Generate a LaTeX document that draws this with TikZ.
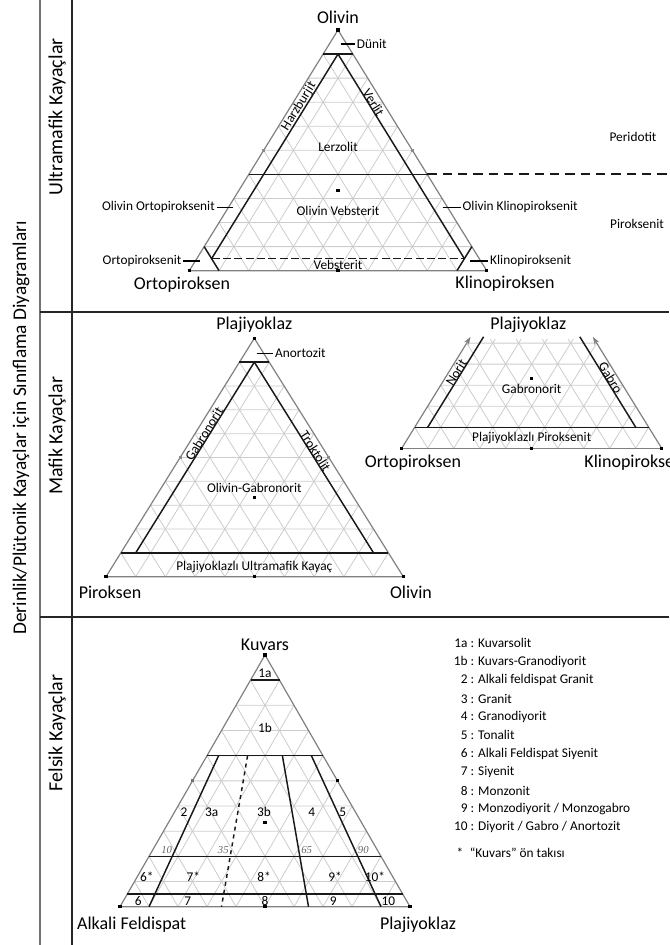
\documentclass[tikz,border=0pt]{standalone}
\usepackage{fontspec}
\setmainfont{Carlito}
\newfontfamily\pctfont{Liberation Serif}
\usetikzlibrary{calc,arrows.meta}

\tikzset{
  gridline/.style={draw=black!20, line width=0.6pt},
  edge/.style={draw=black!50, line width=0.9pt},
  bound/.style={draw=black!90, line width=1.1pt},
  tick/.style={draw=black, line width=0.9pt},
  lab/.style={font=\fontsize{10}{12}\selectfont, inner sep=1pt},
  big/.style={font=\fontsize{13.5}{16}\selectfont, inner sep=0pt},
  side/.style={font=\fontsize{14.5}{17}\selectfont, rotate=90, inner sep=0pt},
  pct/.style={font=\pctfont\itshape\fontsize{8}{9}\selectfont, text=black!60, inner sep=0pt},
  frame/.style={draw=black!85, line width=1.5pt},
}

% 10 % grid of a ternary diagram with corners #1 (top), #2, #3
\newcommand\terngrid[3]{%
  \foreach \f in {1,...,9}{%
    \draw[gridline] ($(#2)!0.\f!(#1)$) -- ($(#3)!0.\f!(#1)$)
                    ($(#1)!0.\f!(#2)$) -- ($(#3)!0.\f!(#2)$)
                    ($(#1)!0.\f!(#3)$) -- ($(#2)!0.\f!(#3)$);
  }}
% small square marker
\newcommand\mk[2][black]{\fill[#1] (#2) ++(-1.6,-1.6) rectangle ++(3.2,3.2);}

\begin{document}
\begin{tikzpicture}[x=0.75pt,y=-0.75pt, line join=round]
\useasboundingbox (0,0) rectangle (669,945);
\coordinate (edgeR) at (669,0);

% frame
\draw[frame, draw=black!55] (40,0) -- (40,945);
\draw[frame] (72,0) -- (72,945);
\draw[frame] (40,311.5) -- (669,311.5) (40,617) -- (669,617);
\node[side] (title) at (21,428) {Derinlik/Plütonik Kayaçlar için Sınıflama Diyagramları};
\node[side, font=\fontsize{15}{18}\selectfont] (ultra) at (57,117) {Ultramafik Kayaçlar};
\node[side, font=\fontsize{15}{18}\selectfont] (mafik) at (57,436) {Mafik Kayaçlar};
\node[side, font=\fontsize{15}{18}\selectfont] (felsik) at (57,733) {Felsik Kayaçlar};

% ---------------- ultramafic
\coordinate (ol) at (338,30);
\coordinate (opx) at (189.3,270.7);
\coordinate (cpx) at (486.7,270.7);
\terngrid{ol}{opx}{cpx}
\draw[edge] (ol) -- (opx) -- (cpx) -- cycle;
\coordinate (dn) at (barycentric cs:ol=0.9,opx=0.05,cpx=0.05);
\coordinate (lz) at (barycentric cs:ol=0.4,cpx=0.6);
\draw[bound] (barycentric cs:ol=0.9,opx=0.1) -- (barycentric cs:ol=0.9,cpx=0.1);
\draw[bound] (barycentric cs:ol=0.4,opx=0.6) -- (lz);
\draw[bound, dash pattern=on 7pt off 4.5pt, line width=1.4pt] (lz) -- (lz -| edgeR);
\draw[bound] (dn) -- node[lab, sloped, above=-1.5pt, pos=0.27] (harz) {Harzburjit}
  (barycentric cs:ol=0.05,opx=0.9,cpx=0.05);
\draw[bound] (dn) -- node[lab, sloped, above=-1.5pt, pos=0.25] (verl) {Verlit}
  (barycentric cs:ol=0.05,opx=0.05,cpx=0.9);
\draw[bound] (barycentric cs:ol=0.1,opx=0.9) -- (barycentric cs:opx=0.9,cpx=0.1);
\draw[bound] (barycentric cs:ol=0.1,cpx=0.9) -- (barycentric cs:opx=0.1,cpx=0.9);
\draw[bound, line width=0.8pt, dash pattern=on 6pt off 2.5pt]
  (barycentric cs:ol=0.05,opx=0.9,cpx=0.05) -- (barycentric cs:ol=0.05,opx=0.05,cpx=0.9);
\mk{ol}\mk{opx}\mk{cpx}\mk{barycentric cs:opx=1,cpx=1}
\mk[black!45]{barycentric cs:ol=1,opx=1}\mk[black!45]{barycentric cs:ol=1,cpx=1}
\mk{barycentric cs:ol=1,opx=1,cpx=1}
\node[big] (olT) at (338,17) {Olivin};
\node[big] (opxT) at (182,285) {Ortopiroksen};
\node[big] (cpxT) at (505,284) {Klinopiroksen};
\node[lab] (lerz) at (338,147) {Lerzolit};
\node[lab] (olveb) at (338,210.7) {Olivin Vebsterit};
\node[lab] (veb) at (338,265) {Vebsterit};
\node[lab] (perid) at (633,137.3) {Peridotit};
\node[lab] (pirok) at (637,224) {Piroksenit};
\draw[tick] (340.7,44) -- (355,44) node[lab, right=0pt] (dun) {Dünit};
\draw[tick] (233.3,207.3) -- (216.7,207.3) node[lab, left=0pt] (olopx) {Olivin Ortopiroksenit};
\draw[tick] (200,261) -- (183.3,261) node[lab, left=0pt] (opxit) {Ortopiroksenit};
\draw[tick] (442.7,207.3) -- (460.7,207.3) node[lab, right=0pt] (olcpx) {Olivin Klinopiroksenit};
\draw[tick] (470,261) -- (488.3,261) node[lab, right=0pt] (cpxit) {Klinopiroksenit};

% ---------------- mafic
\coordinate (pl) at (254.3,338.3);
\coordinate (px) at (106,576.7);
\coordinate (olm) at (403.3,576.7);
\terngrid{pl}{px}{olm}
\draw[edge] (pl) -- (px) -- (olm) -- cycle;
\coordinate (an) at (barycentric cs:pl=0.9,px=0.05,olm=0.05);
\draw[bound] (barycentric cs:pl=0.9,px=0.1) -- (barycentric cs:pl=0.9,olm=0.1);
\draw[bound] (barycentric cs:pl=0.1,px=0.9) -- (barycentric cs:pl=0.1,olm=0.9);
\draw[bound] (an) -- node[lab, sloped, above=-1.5pt, pos=0.39] (gbn) {Gabronorit}
  (barycentric cs:pl=0.1,px=0.85,olm=0.05);
\draw[bound] (an) -- node[lab, sloped, above=-1.5pt, pos=0.48] (trok) {Troktolit}
  (barycentric cs:pl=0.1,px=0.05,olm=0.85);
\mk{pl}\mk{px}\mk{olm}\mk{barycentric cs:px=1,olm=1}
\mk[black!45]{barycentric cs:pl=1,px=1}\mk[black!45]{barycentric cs:pl=1,olm=1}
\mk{barycentric cs:pl=1,px=1,olm=1}
\node[big] (plT) at (254.3,325) {Plajiyoklaz};
\node[big] (pxT) at (110,592) {Piroksen};
\node[big] (olmT) at (411,592) {Olivin};
\node[lab] (olgbn) at (254.3,488.3) {Olivin-Gabronorit};
\node[lab] (plum) at (254.3,566.7) {Plajiyoklazlı Ultramafik Kayaç};
\draw[tick] (256.7,353.3) -- (273.3,353.3) node[lab, right=0pt] (anort) {Anortozit};

% ---------------- gabbro / norite
\coordinate (plb) at (531.7,237.9);
\coordinate (opxb) at (401.7,448.3);
\coordinate (cpxb) at (661.7,448.3);
\begin{scope}
  \clip (380,339) rectangle (669,449);
  \terngrid{plb}{opxb}{cpxb}
\end{scope}
\draw[edge, -{Stealth[length=6pt,width=4pt]}] (opxb) -- (barycentric cs:plb=0.53,opxb=0.47);
\draw[edge, -{Stealth[length=6pt,width=4pt]}] (cpxb) -- (barycentric cs:plb=0.53,cpxb=0.47);
\draw[edge] (opxb) -- (cpxb);
\draw[bound] (barycentric cs:plb=0.1,opxb=0.9) -- (barycentric cs:plb=0.1,cpxb=0.9);
\draw[bound] (barycentric cs:plb=0.1,opxb=0.85,cpxb=0.05) -- node[lab, sloped, above=-1.5pt, pos=0.58] (nor) {Norit}
  (barycentric cs:plb=0.53,opxb=0.42,cpxb=0.05);
\draw[bound] (barycentric cs:plb=0.1,opxb=0.05,cpxb=0.85) -- node[lab, sloped, above=-1.5pt, pos=0.52] (gab) {Gabro}
  (barycentric cs:plb=0.53,opxb=0.05,cpxb=0.42);
\mk{opxb}\mk{cpxb}\mk{barycentric cs:opxb=1,cpxb=1}
\mk{barycentric cs:plb=1,opxb=1,cpxb=1}
\node[big] (plbT) at (528.3,325) {Plajiyoklaz};
\node[big] (opxbT) at (413,463) {Ortopiroksen};
\node[big] (cpxbT) at (634,463) {Klinopiroksen};
\node[lab] (gbnr) at (531.7,389.3) {Gabronorit};
\node[lab] (plpx) at (531.7,438.3) {Plajiyoklazlı Piroksenit};

% ---------------- felsic (QAP)
\coordinate (q) at (265,655);
\coordinate (a) at (120,906.7);
\coordinate (p) at (410,906.7);
\terngrid{q}{a}{p}
\draw[edge] (q) -- (a) -- (p) -- cycle;
\foreach \qq/\rq in {0.9/0.1, 0.6/0.4, 0.2/0.8, 0.05/0.95}
  \draw[bound] (barycentric cs:q=\qq,a=\rq) -- (barycentric cs:q=\qq,p=\rq);
\foreach \r/\s in {0.1/solid, 0.35/dashed, 0.65/solid, 0.9/solid}{
  \pgfmathsetmacro\ra{0.4*(1-\r)}\pgfmathsetmacro\rp{0.4*\r}
  \pgfmathsetmacro\ba{1-\r}
  \draw[bound, \s] (barycentric cs:q=0.6,a=\ra,p=\rp) -- (barycentric cs:a=\ba,p=\r);
}
\mk{q}\mk{a}\mk{p}\mk{barycentric cs:a=1,p=1}
\mk[black!55]{barycentric cs:q=1,a=1}\mk{barycentric cs:q=1,p=1}
\mk{barycentric cs:q=1,a=1,p=1}
\node[big] (qT) at (265,645) {Kuvars};
\node[big] (aT) at (131.7,925) {Alkali Feldispat};
\node[big] (pT) at (418,925) {Plajiyoklaz};
\node[lab] (f1a) at (265,673.3) {1a};
\node[lab] (f1b) at (265,728.3) {1b};
\node[lab] (f2) at (184,812) {2};
\node[lab] (f3a) at (211.7,812) {3a};
\node[lab] (f3b) at (264,812) {3b};
\node[lab] (f4) at (311.7,812) {4};
\node[lab] (f5) at (342.7,812) {5};
\node[pct] (p10) at (166.7,850) {10};
\node[pct] (p35) at (223.3,850) {35};
\node[pct] (p65) at (306.7,850) {65};
\node[pct] (p90) at (363.3,850) {90};
\node[lab] (f6s) at (146.7,876.7) {6*};
\node[lab] (f7s) at (193.3,876.7) {7*};
\node[lab] (f8s) at (264,876.7) {8*};
\node[lab] (f9s) at (335,876.7) {9*};
\node[lab] (f10s) at (375,876.7) {10*};
\node[lab] (f6) at (138.3,901) {6};
\node[lab] (f7) at (187.7,901) {7};
\node[lab] (f8) at (265,901) {8};
\node[lab] (f9) at (333.3,901) {9};
\node[lab] (f10) at (388.3,901) {10};

% legend
\foreach \n/\t [count=\i from 0] in {1a/Kuvarsolit, 1b/Kuvars-Granodiyorit,
    2/Alkali feldispat Granit, 3/Granit, 4/Granodiyorit, 5/Tonalit,
    6/Alkali Feldispat Siyenit, 7/Siyenit, 8/Monzonit,
    9/{Monzodiyorit / Monzogabro}, 10/{Diyorit / Gabro / Anortozit}}
  \node[lab, anchor=west] (leg\i) at (452,643.3+18.4*\i) {\makebox[10.5pt][r]{\n} : \t};
\node[lab, anchor=west] (legstar) at (455,853) {*\enspace “Kuvars” ön takısı};
\end{tikzpicture}
\end{document}
